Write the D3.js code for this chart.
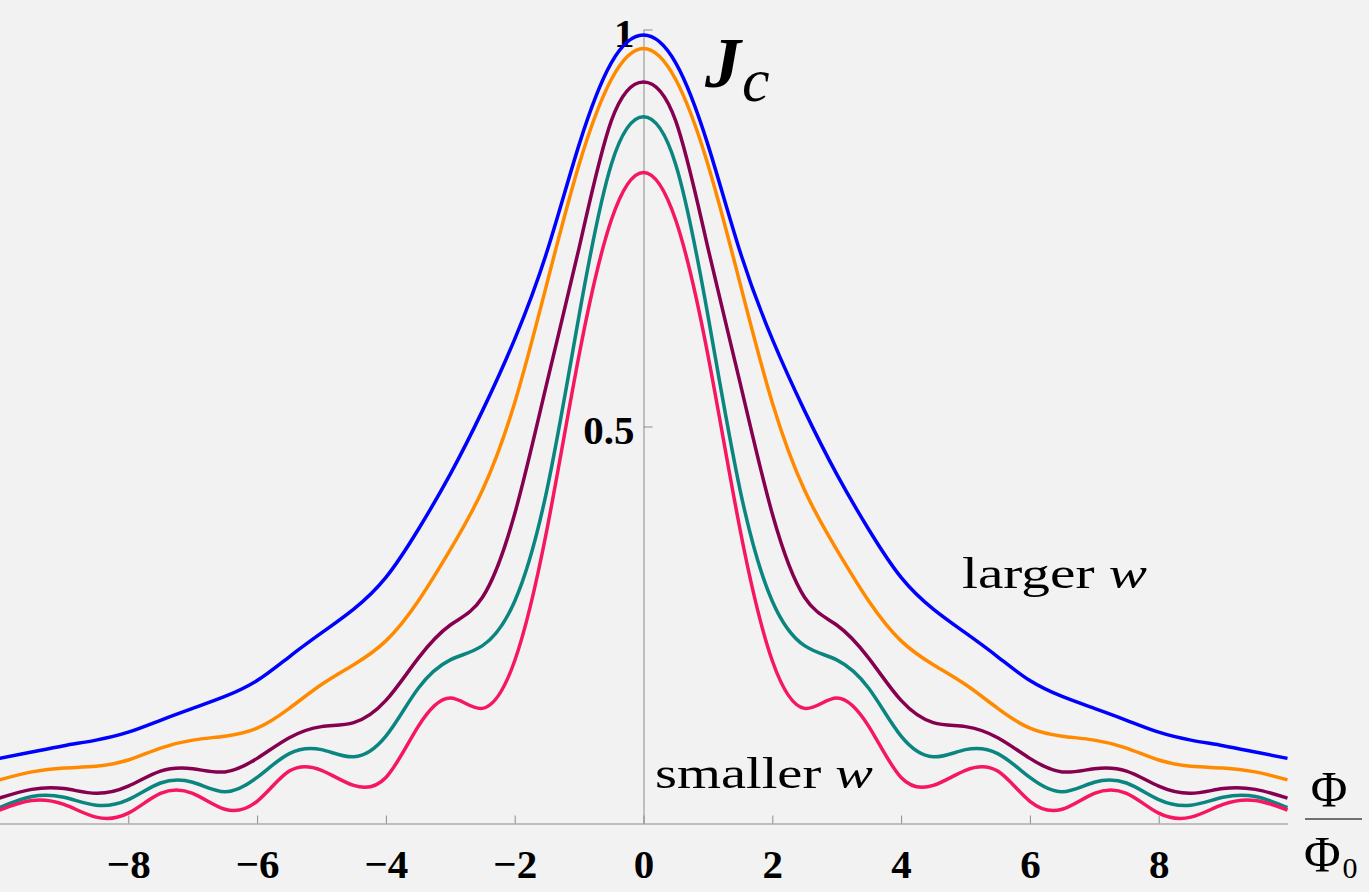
<!DOCTYPE html>
<html>
<head>
<meta charset="utf-8">
<script src="https://cdn.jsdelivr.net/npm/d3@7"></script>
<style>
  html, body { margin: 0; padding: 0; background: #f2f2f2; }
  svg { display: block; }
  .tick text { font-family: "Liberation Serif", "Times New Roman", serif; font-weight: bold; font-size: 41px; fill: #000; }
  .ann { font-family: "Liberation Serif", "Times New Roman", serif; fill: #000; }
</style>
</head>
<body>
<svg id="chart"></svg>
<script>
const width = 1369;
const height = 892;

// x grid shared by all curves, -10 .. 10 step 0.5
var xs = d3.range(-10, 10.001, 0.5);

var blueVals = [0.082, 0.090, 0.098, 0.105, 0.115, 0.130, 0.145, 0.160, 0.180, 0.210, 0.240, 0.270, 0.310, 0.370, 0.440, 0.520, 0.610, 0.720, 0.855, 0.958,
                0.993,
                0.958, 0.855, 0.720, 0.610, 0.520, 0.440, 0.370, 0.310, 0.270, 0.240, 0.210, 0.180, 0.160, 0.145, 0.130, 0.115, 0.105, 0.098, 0.090, 0.082];
var orangeVals = [0.055, 0.065, 0.070, 0.072, 0.080, 0.095, 0.105, 0.110, 0.120, 0.145, 0.175, 0.200, 0.230, 0.280, 0.345, 0.420, 0.530, 0.680, 0.830, 0.937,
                  0.976,
                  0.937, 0.830, 0.680, 0.530, 0.420, 0.345, 0.280, 0.230, 0.200, 0.175, 0.145, 0.120, 0.110, 0.105, 0.095, 0.080, 0.072, 0.070, 0.065, 0.055];
var purpleVals = [0.032, 0.043, 0.044, 0.038, 0.047, 0.066, 0.069, 0.065, 0.082, 0.108, 0.122, 0.127, 0.155, 0.208, 0.250, 0.285, 0.390, 0.555, 0.725, 0.885,
                  0.934,
                  0.885, 0.725, 0.555, 0.390, 0.285, 0.250, 0.208, 0.155, 0.127, 0.122, 0.108, 0.082, 0.065, 0.069, 0.066, 0.047, 0.038, 0.044, 0.043, 0.032];
var tealVals = [0.020, 0.034, 0.033, 0.023, 0.030, 0.051, 0.052, 0.040, 0.058, 0.088, 0.093, 0.084, 0.110, 0.170, 0.206, 0.224, 0.280, 0.420, 0.640, 0.830,
                0.890,
                0.830, 0.640, 0.420, 0.280, 0.224, 0.206, 0.170, 0.110, 0.084, 0.093, 0.088, 0.058, 0.040, 0.052, 0.051, 0.030, 0.023, 0.033, 0.034, 0.020];
var pinkVals = [0.017, 0.029, 0.024, 0.008, 0.013, 0.038, 0.038, 0.018, 0.028, 0.066, 0.067, 0.048, 0.058, 0.122, 0.158, 0.145, 0.205, 0.370, 0.590, 0.760,
                0.820,
                0.760, 0.590, 0.370, 0.205, 0.145, 0.158, 0.122, 0.058, 0.048, 0.067, 0.066, 0.028, 0.018, 0.038, 0.038, 0.013, 0.008, 0.024, 0.029, 0.017];

var seriesNames = ["blue", "orange", "purple", "teal", "pink"];
var seriesColors = ["#0000ff", "#ff8a00", "#85004f", "#0a8580", "#f5175f"];
var xTicks = [-8, -6, -4, -2, 0, 2, 4, 6, 8];
var yTicks = [0.5, 1];

var allVals = [blueVals, orangeVals, purpleVals, tealVals, pinkVals];

var svg = d3.select("#chart")
    .attr("width", width)
    .attr("height", height);

svg.append("rect")
    .attr("width", width)
    .attr("height", height)
    .attr("fill", "#f2f2f2");

var xScale = d3.scaleLinear().domain([-10, 10]).range([-0.5, 1287.5]);
var yScale = d3.scaleLinear().domain([0, 1]).range([823.5, 29.5]);

// axes
var xAxis = d3.axisBottom(xScale)
    .tickValues(xTicks)
    .tickSizeInner(-8)
    .tickSizeOuter(0);

var gx = svg.append("g")
    .attr("class", "xAxis")
    .attr("transform", "translate(0," + yScale(0) + ")")
    .call(xAxis);
gx.select(".domain").attr("stroke", "#8c8c8c");
gx.selectAll(".tick line").attr("stroke", "#8c8c8c");
gx.selectAll(".tick text").attr("y", 54).attr("dy", 0);

var yAxis = d3.axisRight(yScale)
    .tickValues(yTicks)
    .tickSizeInner(9)
    .tickSizeOuter(0)
    .tickFormat(d => d === 1 ? "1" : d);

var gy = svg.append("g")
    .attr("class", "yAxis")
    .attr("transform", "translate(" + xScale(0) + ",0)")
    .call(yAxis);
gy.select(".domain").attr("stroke", "#8c8c8c");
gy.selectAll(".tick line").attr("stroke", "#8c8c8c");
gy.selectAll(".tick text")
    .attr("x", -9)
    .attr("dy", 0)
    .attr("y", 17)
    .attr("text-anchor", "end");

// curves
var line = d3.line()
    .x((d, i) => xScale(xs[i]))
    .y(d => yScale(d))
    .curve(d3.curveNatural);

svg.append("g")
    .selectAll("path")
    .data(allVals)
    .enter()
    .append("path")
    .attr("class", (d, i) => "curve " + seriesNames[i])
    .attr("fill", "none")
    .attr("stroke", (d, i) => seriesColors[i])
    .attr("stroke-width", 3.5)
    .attr("stroke-linejoin", "round")
    .attr("d", line);

// labels
var jc = svg.append("text")
    .attr("class", "ann")
    .attr("x", 705)
    .attr("y", 87)
    .attr("font-style", "italic");
jc.append("tspan")
    .attr("font-size", 72)
    .attr("font-weight", "bold")
    .text("J");
jc.append("tspan")
    .attr("font-size", 62)
    .attr("dx", 1)
    .attr("dy", 14)
    .text("c");

var lw = svg.append("text")
    .attr("class", "ann")
    .attr("x", 962)
    .attr("y", 588)
    .attr("font-size", 44)
    .attr("textLength", 185)
    .attr("lengthAdjust", "spacingAndGlyphs");
lw.append("tspan").text("larger ");
lw.append("tspan").attr("font-style", "italic").text("w");

var sw = svg.append("text")
    .attr("class", "ann")
    .attr("x", 655)
    .attr("y", 788)
    .attr("font-size", 44)
    .attr("textLength", 218)
    .attr("lengthAdjust", "spacingAndGlyphs");
sw.append("tspan").text("smaller ");
sw.append("tspan").attr("font-style", "italic").text("w");

// Phi / Phi_0
svg.append("text")
    .attr("class", "ann")
    .attr("x", 1329)
    .attr("y", 806)
    .attr("font-size", 50)
    .attr("text-anchor", "middle")
    .text("Φ");
svg.append("line")
    .attr("x1", 1305)
    .attr("x2", 1362)
    .attr("y1", 819)
    .attr("y2", 819)
    .attr("stroke", "#444")
    .attr("stroke-width", 1.5);
var phi0 = svg.append("text")
    .attr("class", "ann")
    .attr("x", 1304)
    .attr("y", 871)
    .attr("font-size", 50);
phi0.append("tspan").text("Φ");
phi0.append("tspan")
    .attr("font-size", 30)
    .attr("dx", 2)
    .attr("dy", 7)
    .text("0");
</script>
</body>
</html>
